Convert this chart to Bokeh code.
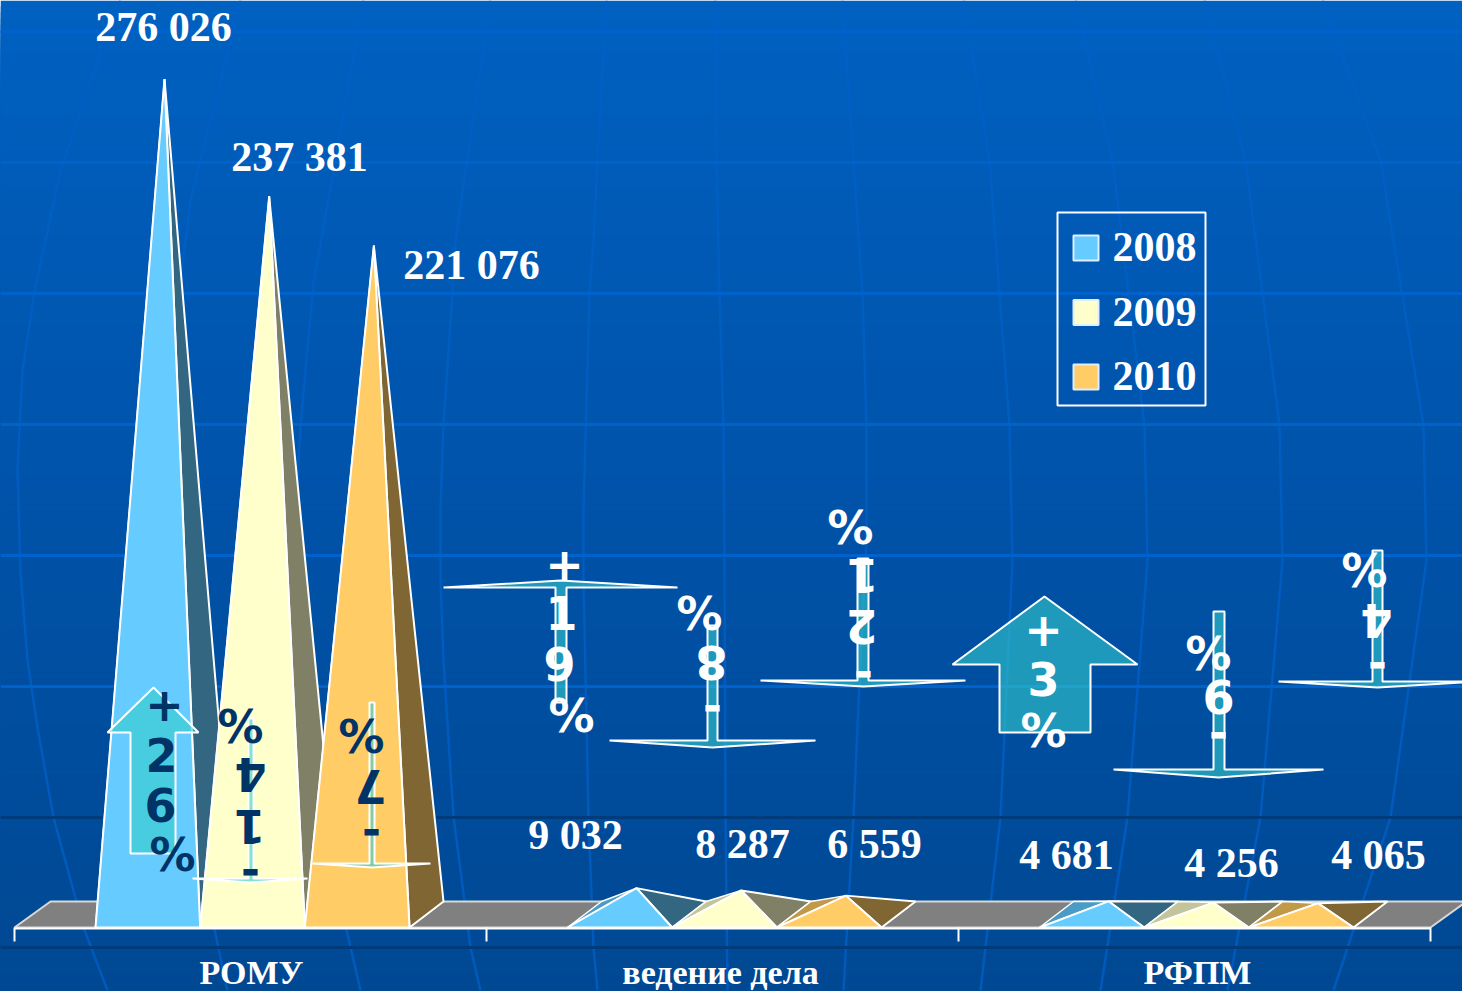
import math
from bokeh.plotting import figure
from bokeh.embed import file_html
from bokeh.resources import INLINE
from bokeh.core.properties import value
from bokeh.models import Range1d

# ---------- data ----------
categories = ["РОМУ", "ведение дела", "РФПМ"]
years = ["2008", "2009", "2010"]
v2008 = [276026, 9032, 4681]
v2009 = [237381, 8287, 4256]
v2010 = [221076, 6559, 4065]
changes = ["+26%", "-14%", "-7%", "+19%", "-8%", "-21%", "+3%", "-9%", "-4%"]

# ---------- styles ----------
front = ["#66CCFF", "#FFFFCC", "#FFCC66"]
side = ["#336680", "#808066", "#806633"]
back = ["#4A9CC4", "#C4C49C", "#C09A48"]
SERIF = "Liberation Serif"
SANS = "DejaVu Sans"
WHITE = "#FFFFFF"
NAVY = "#003366"

# ---------- layout (screen pixels) ----------
W, H = 1462, 991
K = 0.00303          # pixels per unit
ZERO_PX = 915
def Y(px):
    return (ZERO_PX - px) / K

p = figure(width=W, height=H, output_backend="svg", toolbar_location=None,
           x_range=Range1d(0, W), y_range=Range1d(Y(H), Y(0)),
           min_border=0, outline_line_color=None)
p.axis.visible = False
p.grid.visible = False

# background gradient
stops = [(0, (0, 97, 193)), (300, (0, 88, 178)), (600, (0, 80, 164)), (991, (0, 72, 146))]
def grad(y):
    for (a, ca), (b, cb) in zip(stops, stops[1:]):
        if y <= b:
            t = (y - a) / (b - a)
            return "#%02x%02x%02x" % tuple(round(c1 + (c2 - c1) * t) for c1, c2 in zip(ca, cb))
    return "#00488f"
for y in range(0, 991, 6):
    p.quad(left=0, right=1470, top=Y(y), bottom=Y(1000), fill_color=grad(y), line_color=None)

# globe meridians
meridians = [
    [(120,0),(103,45),(60,170),(35,286),(22,370),(17,469),(20,571),(27,660),(37,727),(53,817),(83,927),(107,990)],
    [(240,0),(190,200),(177,300),(165,424),(160,520),(170,700),(195,840),(227,990)],
    [(363,0),(313,283),(300,424),(295,520),(305,700),(330,860),(360,990)],
    [(490,0),(455,240),(452,293),(443,423),(440,507),(440,580),(443,660),(453,816),(470,947),(480,990)],
    [(606,0),(597,160),(593,240),(589,293),(583,507),(583,580),(588,816),(593,947),(597,990)],
    [(715,0),(716,160),(719,293),(723,425),(724,560),(725,816),(727,990)],
    [(842,0),(853,160),(862,293),(866,425),(866,540),(860,660),(853,816),(843,990)],
    [(963,0),(989,160),(1009,425),(1012,560),(1000,817),(980,990)],
    [(1075,0),(1112,160),(1144,425),(1147,560),(1127,817),(1100,990)],
    [(1204,0),(1245,160),(1279,425),(1282,560),(1260,817),(1227,990)],
    [(1322,0),(1380,160),(1423,425),(1426,560),(1390,817),(1333,990)],
]
for m in meridians:
    p.line([a for a, _ in m], [Y(b) for _, b in m], line_color="#0060C8", line_width=2.5, line_alpha=0.75)

# horizontal lines
for y in [31, 162, 293, 424, 555, 686]:
    p.line([0, 1470], [Y(y), Y(y)], line_color="#0062CC", line_width=3)
for y in [817, 947]:
    p.line([0, 1470], [Y(y), Y(y)], line_color="#003C7C", line_width=3)

# floor
BASE, BACK = 927, 901
GROUP_W = 472
X0 = 14
DX = 36
p.patch([X0, X0 + DX, X0 + 3 * GROUP_W + DX, X0 + 3 * GROUP_W],
        [Y(BASE), Y(BACK), Y(BACK), Y(BASE)],
        fill_color="#808080", line_color="#D8D8D8", line_width=2, line_join="bevel")

# cones
BAR_W = 104.67
def cone(x0, val, i):
    x1 = x0 + BAR_W
    ax = x0 + 69
    p.patch([x0, x0 + 34, ax], [Y(BASE), Y(BACK), val], fill_color=back[i],
            line_color=WHITE, line_width=1.5, line_join="bevel")
    p.patch([x1, x1 + 34, ax], [Y(BASE), Y(BACK), val], fill_color=side[i],
            line_color=WHITE, line_width=2, line_join="bevel")
    p.patch([x0, x1, ax], [Y(BASE), Y(BASE), val], fill_color=front[i],
            line_color=WHITE, line_width=2, line_join="bevel")

for g in range(3):
    for i, vals in enumerate([v2008, v2009, v2010]):
        cone(X0 + g * GROUP_W + 81 + i * BAR_W, vals[g], i)

# axis line and ticks
p.line([X0, X0 + 3 * GROUP_W], [Y(BASE + 1), Y(BASE + 1)], line_color=WHITE, line_width=2)
for g in range(4):
    x = X0 + g * GROUP_W
    p.line([x, x], [Y(BASE), Y(941)], line_color=WHITE, line_width=2)

def txt(x, y, s, font, size, color=WHITE, style="normal", angle=0.0):
    p.text([x], [Y(y)], text=[s], text_font=value(font), text_font_size=value(f"{size}px"),
           text_color=color, text_font_style=style, text_align="center",
           text_baseline="middle", angle=angle)

# category labels
for cx, c in zip([251, 720, 1197], categories):
    txt(cx, 972, c, SERIF, 34, style="bold")

# value labels
label_pos = [[(164, 28), (576, 836), (1067, 856)],
             [(300, 158), (743, 845), (1232, 864)],
             [(472, 266), (875, 845), (1379, 856)]]
for vals, pos in zip([v2008, v2009, v2010], label_pos):
    for v, (x, y) in zip(vals, pos):
        s = f"{v:,}".replace(",", " ")
        txt(x - 1, y - 1.5, s, SERIF, 42, style="bold")

# legend
p.patch([1057, 1205, 1205, 1057], [Y(212), Y(212), Y(405), Y(405)], fill_color=None,
        line_color=WHITE, line_width=2)
for yy, year, col in zip([247.5, 312, 376.5], years, front):
    p.patch([1073, 1098, 1098, 1073], [Y(yy - 12.5), Y(yy - 12.5), Y(yy + 12.5), Y(yy + 12.5)],
            fill_color=col, line_color="#DDEEFF", line_width=2)
    txt(1154, yy - 1, year, SERIF, 42, style="bold")

# change arrows
ARROW = "#33CCCC"
def arrow(cx, tip, head, left, right, s0, s1, end):
    xs = [cx, right, s1, s1, s0, s0, left]
    ys = [tip, head, head, end, end, head, head]
    p.patch(xs, [Y(v) for v in ys], fill_color=ARROW, fill_alpha=0.6,
            line_color=WHITE, line_width=2, line_join="bevel")

arrows = [
    (153, 687, 732, 107, 198, 130, 175, 853),
    (250, 882, 878, 192, 307, 248, 253, 718),
    (372, 867, 863, 312, 430, 369, 374, 702),
    (560, 580, 587, 443, 677, 555, 566, 702),
    (712, 747, 740, 609, 815, 707, 717, 625),
    (863, 686, 680, 760, 965, 857, 868, 558),
    (1044, 596, 664, 952, 1137, 999, 1090, 732),
    (1218, 777, 769, 1113, 1323, 1213, 1224, 611),
    (1377, 687, 681, 1278, 1476, 1372, 1382, 550),
]
char_pos = [
    [(165,706),(162,757),(161,807),(173,857)],
    [(250,874),(249,825),(250,773),(240,723)],
    [(371,834),(370,785),(361,733)],
    [(565,566),(562,615),(560,666),(572,718)],
    [(712,710),(711,661),(699,610)],
    [(863,676),(861,625),(862,574),(850,524)],
    [(1044,631),(1044,681),(1044,733)],
    [(1218,737),(1218,695),(1208,650)],
    [(1377,667),(1376,619),(1364,567)],
]
char_col = [NAVY, NAVY, NAVY, WHITE, WHITE, WHITE, WHITE, WHITE, WHITE]
for ch, a, pos, col in zip(changes, arrows, char_pos, char_col):
    arrow(*a)
    up = ch[0] == "+"
    ang = 0.0 if up else math.pi
    for c, (x, y) in zip(ch, pos):
        txt(x - (1 if up else 0), y - (2.5 if up else -1), c, SANS, 46, color=col, style="bold", angle=ang)

open("out.html", "w").write(file_html(p, INLINE))
